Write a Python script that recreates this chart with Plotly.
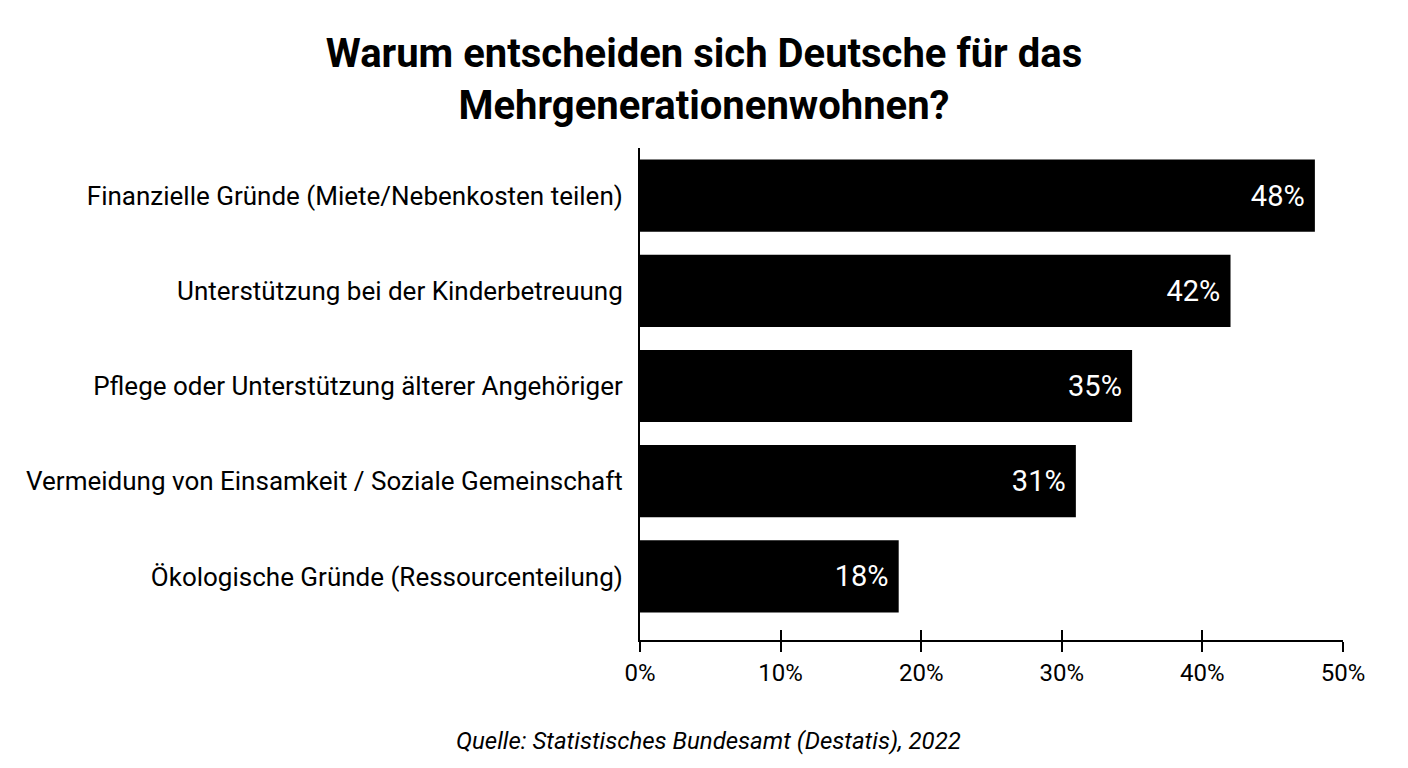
import plotly.graph_objects as go

categories = [
    "Finanzielle Gründe (Miete/Nebenkosten teilen)",
    "Unterstützung bei der Kinderbetreuung",
    "Pflege oder Unterstützung älterer Angehöriger",
    "Vermeidung von Einsamkeit / Soziale Gemeinschaft",
    "Ökologische Gründe (Ressourcenteilung)",
]
values = [48, 42, 35, 31, 18.4]
labels = ["48%", "42%", "35%", "31%", "18%"]
tick_vals = [0, 10, 20, 30, 40, 50]
tick_text = ["0%", "10%", "20%", "30%", "40%", "50%"]

FONT = "Roboto"

fig = go.Figure()
fig.add_trace(go.Bar(
    y=categories, x=values, orientation="h",
    marker=dict(color="black", line=dict(width=0)),
    text=labels, texttemplate="%{text}\u00a0", textposition="inside",
    insidetextanchor="end", textangle=0, constraintext="none",
    textfont=dict(color="white", size=29, family=FONT),
    width=0.758,
))
# overlay axis only used to draw ticks reaching above the axis line
fig.add_trace(go.Scatter(x=[0, 50], y=[categories[0], categories[0]], xaxis="x2",
                         mode="markers", marker=dict(opacity=0), hoverinfo="skip",
                         showlegend=False))

fig.update_layout(
    width=1408, height=768,
    margin=dict(l=640, r=65, t=148, b=128),
    paper_bgcolor="white", plot_bgcolor="white",
    showlegend=False,
    title=dict(
        text="<b>Warum entscheiden sich Deutsche für das<br>Mehrgenerationenwohnen?</b>",
        x=0.5, xanchor="center", yref="container", y=1 - 67 / 768, yanchor="middle",
        font=dict(family=FONT, size=40, color="black"),
    ),
    xaxis=dict(
        range=[0, 50], tickvals=tick_vals, ticktext=tick_text,
        showgrid=False, zeroline=False, showline=True, linecolor="black", linewidth=2,
        ticks="outside", ticklen=10, tickwidth=2, tickcolor="black",
        tickfont=dict(family=FONT, size=24, color="black"),
    ),
    xaxis2=dict(
        range=[0, 50], tickvals=tick_vals, overlaying="x", side="bottom", anchor="y",
        showticklabels=False, showgrid=False, zeroline=False, showline=False,
        ticks="inside", ticklen=10, tickwidth=2, tickcolor="black",
    ),
    yaxis=dict(
        categoryorder="array", categoryarray=categories[::-1],
        range=[-0.668, 4.5],
        showgrid=False, zeroline=False, showline=True, linecolor="black", linewidth=2,
        ticks="", ticklabelstandoff=10,
        tickfont=dict(family=FONT, size=26, color="black"),
    ),
    annotations=[dict(
        text="<i>Quelle: Statistisches Bundesamt (Destatis), 2022</i>",
        xref="paper", x=(708 - 640) / (1343 - 640), xanchor="center",
        yref="paper", y=-(741 - 640) / (640 - 148), yanchor="middle", showarrow=False,
        font=dict(family=FONT, size=24, color="black"),
    )],
)

fig.write_html("out.html")
